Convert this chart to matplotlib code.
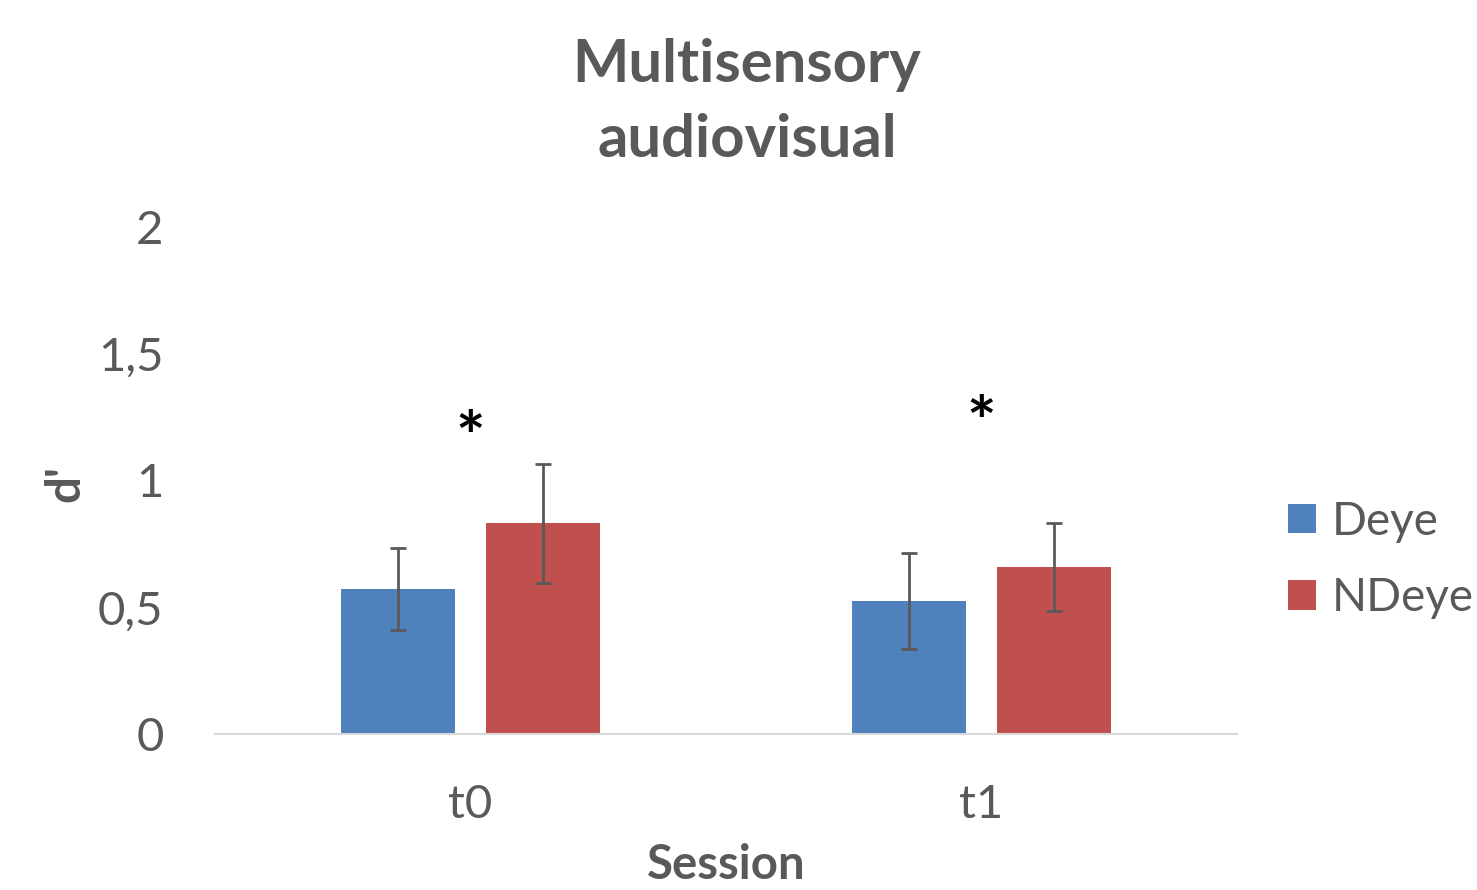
import matplotlib
matplotlib.use("Agg")
import matplotlib.pyplot as plt
from matplotlib.transforms import offset_copy
import numpy as np

plt.rcParams['font.family'] = ['Lato', 'DejaVu Sans']

sessions = ["t0", "t1"]
series_names = ["Deye", "NDeye"]
deye = [0.572, 0.525]
ndeye = [0.832, 0.659]
deye_err = [0.162, 0.19]
ndeye_err = [0.235, 0.172]
star_y = [1.24, 1.30]
yticks = [0, 0.5, 1, 1.5, 2]
ytick_labels = ["0", "0,5", "1", "1,5", "2"]

colors = ["#4F81BD", "#C0504D"]
grey = "#595959"

fig = plt.figure(figsize=(14.77, 8.9), dpi=100)
ax = fig.add_axes([215/1477, 156/890, (1237-215)/1477, (734-227)/890])

x = np.arange(len(sessions))
w = 0.223
off = (w + 0.06) / 2
ax.bar(x - off, deye, w, color=colors[0], label=series_names[0], zorder=2)
ax.bar(x + off, ndeye, w, color=colors[1], label=series_names[1], zorder=2)
ax.errorbar(x - off, deye, yerr=deye_err, fmt='none', ecolor=grey, elinewidth=2, capsize=6, capthick=2, zorder=3)
ax.errorbar(x + off, ndeye, yerr=ndeye_err, fmt='none', ecolor=grey, elinewidth=2, capsize=6, capthick=2, zorder=3)

star_tr = offset_copy(ax.transData, fig=fig, x=0, y=-22, units='dots')
for xi, sy in zip(x, star_y):
    ax.text(xi, sy, "*", ha='center', va='center', fontsize=50, fontweight='bold',
            color='black', transform=star_tr)

ax.set_xlim(-0.5, 1.5)
ax.set_ylim(0, 2)
ax.set_yticks(yticks)
ax.set_yticklabels(ytick_labels)
ax.set_xticks(x)
ax.set_xticklabels(sessions)
for s in ['top', 'right', 'left']:
    ax.spines[s].set_visible(False)
ax.spines['bottom'].set_color('#D9D9D9')
ax.spines['bottom'].set_linewidth(1.5)
ax.tick_params(axis='both', length=0, labelsize=34, colors=grey)
ax.tick_params(axis='y', pad=37)
ax.tick_params(axis='x', pad=36)

fig.text(747/1477, 1 - 65/890, "Multisensory", ha='center', va='center', fontsize=43, fontweight='bold', color=grey)
fig.text(747/1477, 1 - 140/890, "audiovisual", ha='center', va='center', fontsize=43, fontweight='bold', color=grey)
fig.text(65/1477, 1 - 483/890, "d'", ha='center', va='center', rotation=90, fontsize=34, fontweight='bold', color=grey)
fig.text(726/1477, 3/890, "Session", ha='center', va='bottom', fontsize=34, fontweight='bold', color=grey)

leg = ax.legend(loc='center left', bbox_to_anchor=((1288-215)/1022, (734-560)/507), frameon=False, fontsize=33,
                borderpad=0, borderaxespad=0,
                handlelength=0.62, handleheight=0.62, handletextpad=0.34, labelspacing=0.76,
                labelcolor=grey)

fig.savefig("out.png", dpi=100)
